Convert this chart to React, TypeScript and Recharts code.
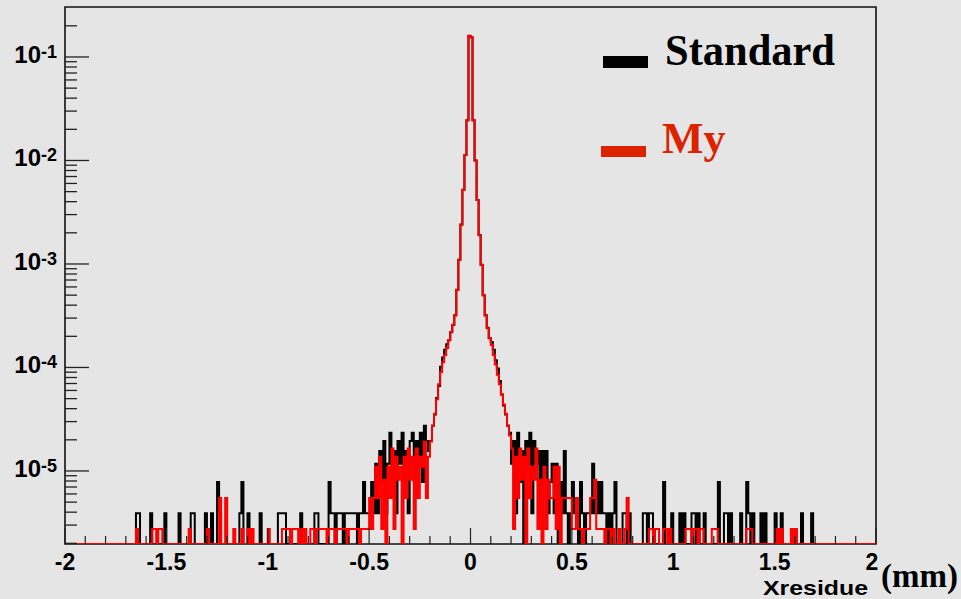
import React from 'react';
import { LineChart, Line, XAxis, YAxis, ReferenceArea } from 'recharts';

// entries per 0.01 mm bin, from -2 mm to 2 mm (400 bins)
const stdCounts = [
  0,0,0,0,0,0,0,0,0,0,0,0,0,0,0,0,0,0,0,0,
  0,0,0,0,0,0,0,0,0,0,0,0,0,0,0,1,1,0,0,0,
  0,0,1,0,0,0,0,0,0,1,0,0,0,0,0,0,1,0,0,0,
  0,0,1,1,0,0,0,0,0,1,0,0,1,0,0,2,1,0,0,0,
  0,0,0,0,0,0,1,2,0,0,1,0,0,0,0,0,1,0,0,0,
  0,0,0,0,0,1,1,1,1,0,0,0,0,0,0,0,1,0,0,0,
  0,0,0,1,1,0,0,0,0,0,2,1,1,0,1,1,1,0,1,1,
  1,1,1,1,0,1,1,2,1,1,1,2,1,3,1,4,2,5,1,3,
  6,2,4,1,5,3,6,2,4,1,5,6,2,5,3,6,2,7,5,4,
  5,7,9,13,17,26,32,38,43,47,56,66,82,144,282,615,1333,2897,6282,41026,
  39744,6282,2564,1064,487,251,128,82,62,49,45,38,30,25,19,14,11,9,7,6,
  3,5,1,6,2,4,0,5,3,6,1,5,3,4,1,4,2,4,1,2,
  3,1,3,0,2,1,4,1,0,1,2,1,1,0,2,1,0,1,1,1,
  3,1,2,1,2,1,1,0,1,0,1,2,0,0,0,1,1,0,1,0,
  0,0,0,0,0,1,1,0,1,1,0,0,0,0,0,2,0,0,0,1,
  0,0,0,1,0,1,0,0,0,1,1,0,1,0,0,1,0,0,0,0,
  0,0,2,0,0,1,1,0,1,0,0,0,0,1,0,0,2,1,0,1,
  0,0,0,1,0,1,0,0,0,0,1,0,0,1,0,0,0,0,0,0,
  0,0,0,1,0,0,0,0,1,0,0,0,0,0,0,0,0,0,0,0,
  0,0,0,0,0,0,0,0,0,0,0,0,0,0,0,0,0,0,0,0,
];

const myCounts = [
  0,0,0,0,0,0,0,0,0,0,0,0,0,0,0,0,0,0,0,0,
  0,0,0,0,0,0,0,0,0,0,0,0,0,0,0,1,0,0,0,0,
  0,0,0,1,1,0,1,1,0,0,0,0,0,0,0,0,0,0,0,0,
  0,1,0,0,0,0,0,0,0,0,1,0,0,0,0,0,2,0,0,2,
  0,0,0,1,0,0,0,1,0,0,1,0,1,0,0,0,0,0,0,0,
  1,0,0,0,0,0,0,1,1,1,1,0,1,1,1,0,1,0,1,0,
  0,1,1,0,1,1,1,1,1,0,1,1,1,0,1,1,1,1,1,0,
  1,1,1,1,1,0,1,1,1,1,2,1,2,4,2,5,1,3,0,4,
  2,6,1,5,3,4,0,5,2,6,3,5,1,6,2,5,4,7,2,5,
  7,10,13,18,25,33,41,48,56,67,80,94,116,204,400,873,1891,4109,8909,58182,
  56364,8909,3636,1509,691,356,182,116,87,70,60,48,39,31,25,20,16,13,10,8,
  6,1,5,2,6,3,5,0,6,2,4,3,6,1,3,0,4,1,3,2,
  2,4,1,4,0,2,2,2,2,2,1,1,2,1,1,0,1,1,1,2,
  2,3,1,1,1,1,0,1,1,0,1,0,0,1,0,0,1,2,0,0,
  0,0,0,0,0,0,0,0,1,1,0,1,1,0,0,1,1,0,1,0,
  0,0,0,0,0,0,1,1,1,0,1,1,0,1,1,0,0,0,0,1,
  1,1,0,0,0,0,0,0,0,0,0,0,0,0,0,0,1,1,1,0,
  0,0,0,0,0,0,0,0,0,0,0,1,0,1,0,0,0,0,1,0,
  1,0,0,0,0,0,0,0,0,0,0,0,0,0,0,0,0,0,0,0,
  0,0,0,0,0,0,0,0,0,0,0,0,0,0,0,0,0,0,0,0,
];

// histograms are normalised to unit area
const STD_ENTRIES = 256000;
const MY_ENTRIES = 364000;

const X_MIN = -2;
const X_MAX = 2;
const BIN_WIDTH = 0.01;
const Y_MIN = 1.97e-6;
const Y_MAX = 0.304;

const xTicks = [
  -2, -1.9, -1.8, -1.7, -1.6, -1.5, -1.4, -1.3, -1.2, -1.1,
  -1, -0.9, -0.8, -0.7, -0.6, -0.5, -0.4, -0.3, -0.2, -0.1,
  0, 0.1, 0.2, 0.3, 0.4, 0.5, 0.6, 0.7, 0.8, 0.9,
  1, 1.1, 1.2, 1.3, 1.4, 1.5, 1.6, 1.7, 1.8, 1.9, 2,
];
const xLabels = [-2, -1.5, -1, -0.5, 0, 0.5, 1, 1.5, 2];

const yTicks = [
  2e-6, 3e-6, 4e-6, 5e-6, 6e-6, 7e-6, 8e-6, 9e-6,
  1e-5, 2e-5, 3e-5, 4e-5, 5e-5, 6e-5, 7e-5, 8e-5, 9e-5,
  1e-4, 2e-4, 3e-4, 4e-4, 5e-4, 6e-4, 7e-4, 8e-4, 9e-4,
  1e-3, 2e-3, 3e-3, 4e-3, 5e-3, 6e-3, 7e-3, 8e-3, 9e-3,
  1e-2, 2e-2, 3e-2, 4e-2, 5e-2, 6e-2, 7e-2, 8e-2, 9e-2,
  1e-1, 2e-1,
];
const yMajor = [1e-5, 1e-4, 1e-3, 1e-2, 1e-1];

// empty bins are drawn along the frame bottom, like ROOT does
const norm = (c: number, n: number) => (c > 0 ? c / n : Y_MIN);

const data = stdCounts.concat([stdCounts[stdCounts.length - 1]]).map((_, i) => {
  const k = Math.min(i, stdCounts.length - 1);
  return {
    x: X_MIN + i * BIN_WIDTH,
    std: norm(stdCounts[k], STD_ENTRIES),
    my: norm(myCounts[k], MY_ENTRIES),
  };
});

const SANS = '"Liberation Sans", Arial, Helvetica, sans-serif';
const SERIF = '"Liberation Serif", "Times New Roman", serif';

const YTick = (props: any) => {
  const { x, y, payload } = props;
  const v = payload.value;
  const major = yMajor.some((m) => Math.abs(m - v) / m < 1e-6);
  return (
    <g>
      <line x1={x} x2={x + (major ? 24 : 12)} y1={y} y2={y} stroke="#222" strokeWidth={1.3} />
      {major && (
        <text x={x - 8} y={y + 6} textAnchor="end" fontFamily={SANS} fontWeight="bold" fontSize={24} fill="#000">
          10
          <tspan dy={-5} fontSize={18}>{'-' + Math.round(-Math.log10(v))}</tspan>
        </text>
      )}
    </g>
  );
};

const XTick = (props: any) => {
  const { x, y, payload } = props;
  const v = payload.value;
  const major = xLabels.some((m) => Math.abs(m - v) < 1e-6);
  const shift = v === X_MAX ? -4 : 0;
  return (
    <g>
      <line x1={x} x2={x} y1={y} y2={y - (major ? 16 : 8)} stroke="#222" strokeWidth={1.2} />
      {major && (
        <text x={x + shift} y={y + 26} textAnchor="middle" fontFamily={SANS} fontWeight="bold" fontSize={23} fill="#000">
          {String(v)}
        </text>
      )}
    </g>
  );
};

export default function App() {
  return (
    <div style={{ position: 'relative', width: 961, height: 599, background: '#e5e5e5' }}>
      <style>{'body{margin:0}'}</style>
      <LineChart width={961} height={599} data={data} margin={{ top: 7, right: 85, bottom: 0, left: 0 }}>
        <XAxis
          type="number"
          dataKey="x"
          domain={[X_MIN, X_MAX]}
          ticks={xTicks}
          interval={0}
          tick={(p: any) => <XTick {...p} />}
          tickLine={false}
          axisLine={false}
          tickSize={0}
          tickMargin={0}
          height={55}
          allowDataOverflow
        />
        <YAxis
          type="number"
          scale="log"
          domain={[Y_MIN, Y_MAX]}
          ticks={yTicks}
          interval={0}
          tick={(p: any) => <YTick {...p} />}
          tickLine={false}
          axisLine={false}
          tickSize={0}
          tickMargin={0}
          width={65}
          allowDataOverflow
        />
        <ReferenceArea x1={X_MIN} x2={X_MAX} y1={Y_MIN} y2={Y_MAX} fill="none" stroke="#111" strokeWidth={1.6} />
        <Line dataKey="std" type="stepAfter" stroke="#000" strokeWidth={2} dot={false} isAnimationActive={false} />
        <Line dataKey="my" type="stepAfter" stroke="#ff0000" strokeWidth={2} dot={false} isAnimationActive={false} />
      </LineChart>
      <svg width={961} height={599} style={{ position: 'absolute', left: 0, top: 0, pointerEvents: 'none' }}>
        <rect x={603} y={56} width={45} height={12} fill="#000" />
        <text x={665} y={65} fontFamily={SERIF} fontWeight="bold" fontSize={44} fill="#000" textLength={170} lengthAdjust="spacingAndGlyphs">
          Standard
        </text>
        <rect x={601} y={146} width={45} height={11} fill="#dd2200" />
        <text x={662} y={153} fontFamily={SERIF} fontWeight="bold" fontSize={44} fill="#dd2200">
          My
        </text>
        <text x={763} y={595} fontFamily={SANS} fontWeight="bold" fontSize={21} fill="#000" textLength={105} lengthAdjust="spacingAndGlyphs">
          Xresidue
        </text>
        <text x={881} y={587} fontFamily={SERIF} fontWeight="bold" fontSize={33} fill="#000">
          (mm)
        </text>
      </svg>
    </div>
  );
}
